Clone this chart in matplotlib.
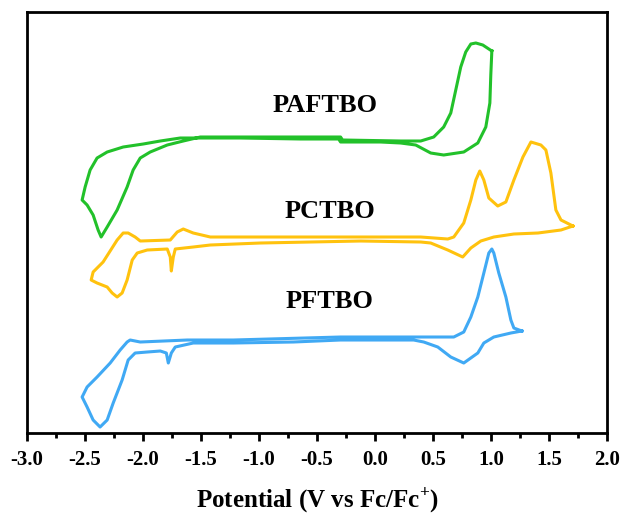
import numpy as np
import matplotlib
matplotlib.use("Agg")
import matplotlib.pyplot as plt
from matplotlib.ticker import MultipleLocator

plt.rcParams['font.family'] = ['Liberation Serif', 'DejaVu Serif']
plt.rcParams['font.weight'] = 'bold'
plt.rcParams['mathtext.fontset'] = 'custom'
plt.rcParams['mathtext.rm'] = 'Liberation Serif:bold'
plt.rcParams['mathtext.bf'] = 'Liberation Serif:bold'

# cyclic voltammograms, potential (V vs Fc/Fc+) and current (a.u., stacked)
paftbo_v = [1.007, 0.998, 0.990, 0.955, 0.886, 0.765, 0.592, 0.480, 0.351, 0.221,
            0.048, -0.297, -0.314, -0.642, -1.161, -1.506, -1.679, -1.851, -1.998,
            -2.171, -2.309, -2.396, -2.456, -2.499, -2.525, -2.482, -2.430, -2.387,
            -2.361, -2.309, -2.223, -2.137, -2.085, -2.024, -1.938, -1.791, -1.653,
            -1.506, -1.161, -0.642, -0.297, -0.280, 0.221, 0.394, 0.506, 0.592,
            0.653, 0.696, 0.739, 0.782, 0.826, 0.869, 0.929, 1.007]
paftbo_i = [38.2, 35.8, 33.0, 30.6, 29.0, 28.1, 27.8, 28.0, 28.8, 29.0,
            29.1, 29.1, 29.4, 29.4, 29.5, 29.5, 29.5, 29.2, 28.9,
            28.6, 28.1, 27.5, 26.3, 24.6, 23.3, 22.8, 21.8, 20.3,
            19.6, 20.6, 22.3, 24.6, 26.3, 27.5, 28.1, 28.8, 29.2,
            29.6, 29.6, 29.6, 29.6, 29.3, 29.2, 29.2, 29.6, 30.6,
            32.0, 34.3, 36.6, 38.1, 38.9, 39.0, 38.8, 38.2]

pctbo_v = [1.706, 1.603, 1.405, 1.197, 1.024, 0.912, 0.826, 0.756, 0.627, 0.480,
           0.394, -0.124, -0.988, -1.420, -1.567, -1.722, -1.739, -1.756, -1.765,
           -1.791, -1.964, -2.050, -2.093, -2.137, -2.180, -2.223, -2.266, -2.309,
           -2.396, -2.447, -2.430, -2.344, -2.223, -2.171, -2.128, -2.068, -2.024,
           -1.765, -1.705, -1.653, -1.567, -1.420, -0.297, 0.394, 0.627, 0.679,
           0.765, 0.826, 0.869, 0.903, 0.938, 0.981, 1.058, 1.128, 1.197, 1.275,
           1.344, 1.430, 1.473, 1.516, 1.559, 1.603, 1.706]
pctbo_i = [20.7, 20.3, 20.0, 19.9, 19.6, 19.2, 18.5, 17.6, 18.3, 19.0,
           19.1, 19.2, 19.0, 18.8, 18.6, 18.4, 17.6, 16.2, 17.6,
           18.4, 18.3, 18.0, 17.3, 15.3, 14.0, 13.6, 14.0, 14.6,
           15.0, 15.3, 16.1, 17.1, 19.3, 20.0, 20.0, 19.6, 19.2,
           19.3, 20.1, 20.4, 20.0, 19.6, 19.6, 19.6, 19.4, 19.6,
           21.0, 23.3, 25.3, 26.2, 25.3, 23.5, 22.7, 23.1, 25.3, 27.6,
           29.1, 28.8, 28.3, 26.0, 22.3, 21.3, 20.7]

pftbo_v = [1.266, 1.171, 1.024, 0.938, 0.886, 0.765, 0.653, 0.541, 0.420, 0.333,
           -0.297, -0.703, -1.221, -1.567, -1.722, -1.756, -1.782, -1.799, -1.851,
           -1.964, -2.068, -2.128, -2.180, -2.257, -2.309, -2.370, -2.430, -2.482,
           -2.525, -2.482, -2.396, -2.283, -2.197, -2.137, -2.111, -2.024, -1.618,
           -1.221, -0.297, 0.679, 0.765, 0.826, 0.886, 0.938, 0.981, 1.007, 1.024,
           1.067, 1.128, 1.171, 1.197, 1.266]
pftbo_i = [10.2, 10.0, 9.6, 9.0, 8.0, 7.0, 7.6, 8.6, 9.1, 9.3,
           9.3, 9.1, 9.0, 9.0, 8.6, 8.0, 7.0, 8.0, 8.2,
           8.1, 8.0, 7.3, 5.3, 3.0, 1.3, 0.6, 1.3, 2.6,
           3.6, 4.6, 5.6, 7.0, 8.3, 9.1, 9.3, 9.1, 9.3,
           9.3, 9.6, 9.6, 10.1, 11.6, 13.6, 16.0, 18.0, 18.4, 18.0,
           16.0, 13.6, 11.3, 10.5, 10.2]

names = ['PAFTBO', 'PCTBO', 'PFTBO']
colors = ['#22c12a', '#ffc20e', '#40a9f4']
label_pos = [(-0.43, 32.8), (-0.39, 22.2), (-0.39, 13.2)]

fig = plt.figure(figsize=(6.21, 5.15), dpi=100)
ax = fig.add_axes([0.0435, 0.1592, 0.934, 0.8175])

curves = [(paftbo_v, paftbo_i), (pctbo_v, pctbo_i), (pftbo_v, pftbo_i)]
for (v, i), c in zip(curves, colors):
    ax.plot(v, i, color=c, lw=2.2, solid_joinstyle='round')

for name, (x, y) in zip(names, label_pos):
    ax.text(x, y, name, fontsize=19, fontweight='bold', ha='center', va='center')

ax.set_xlim(-3.0, 2.0)
ax.set_ylim(0, 42.1)
ax.xaxis.set_major_locator(MultipleLocator(0.5))
ax.xaxis.set_minor_locator(MultipleLocator(0.25))
ax.set_xticklabels([f"{t:.1f}" for t in ax.get_xticks()])
ax.set_yticks([])
ax.tick_params(axis='x', which='major', direction='out', length=6, width=2,
               labelsize=15, pad=6)
ax.tick_params(axis='x', which='minor', direction='out', length=3.5, width=2)
for s in ax.spines.values():
    s.set_linewidth(2)
ax.set_xlabel('Potential (V vs Fc/Fc$^{+}$)', fontsize=18, fontweight='bold',
              labelpad=12)

fig.savefig('out.png', dpi=100)
